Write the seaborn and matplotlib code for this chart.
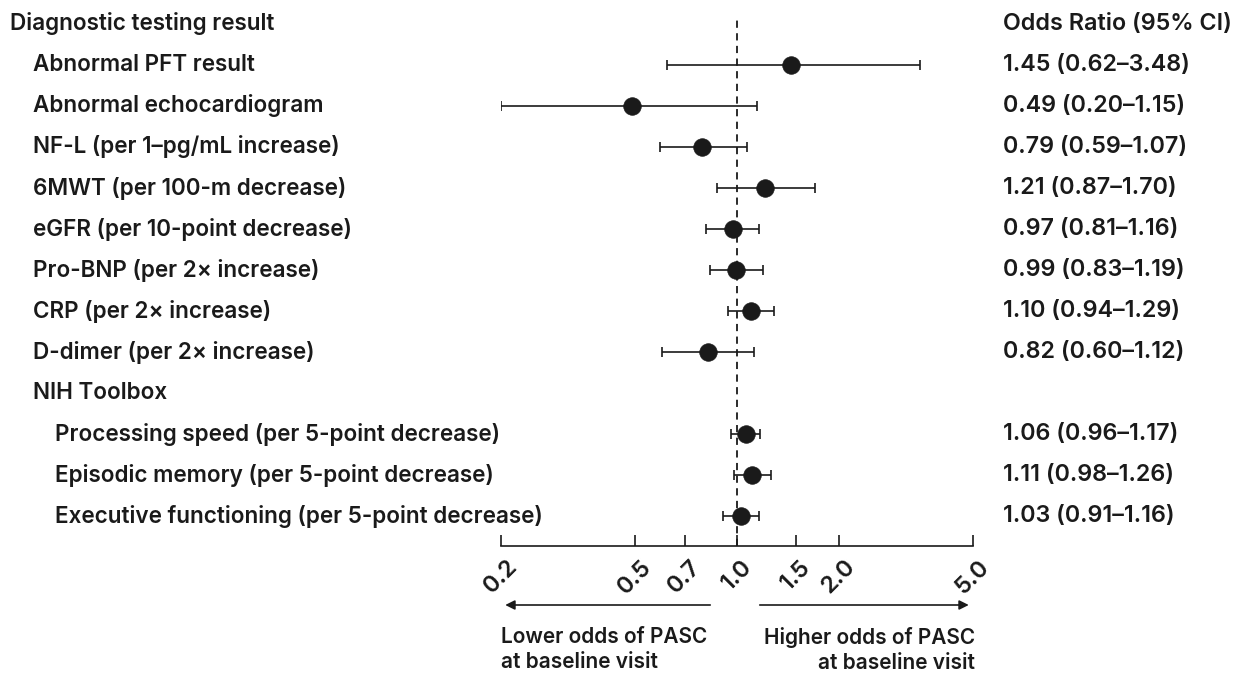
import numpy as np
import pandas as pd
import matplotlib
matplotlib.use("Agg")
import matplotlib.pyplot as plt
import matplotlib.transforms as mtransforms
import seaborn as sns

# data
labels = ["Abnormal PFT result", "Abnormal echocardiogram", "NF-L (per 1\u2013pg/mL increase)",
          "6MWT (per 100-m decrease)", "eGFR (per 10-point decrease)", "Pro-BNP (per 2\u00d7 increase)",
          "CRP (per 2\u00d7 increase)", "D-dimer (per 2\u00d7 increase)",
          "Processing speed (per 5-point decrease)", "Episodic memory (per 5-point decrease)",
          "Executive functioning (per 5-point decrease)"]
odds = [1.45, 0.49, 0.79, 1.21, 0.97, 0.99, 1.10, 0.82, 1.06, 1.11, 1.03]
lower = [0.62, 0.20, 0.59, 0.87, 0.81, 0.83, 0.94, 0.60, 0.96, 0.98, 0.91]
upper = [3.48, 1.15, 1.07, 1.70, 1.16, 1.19, 1.29, 1.12, 1.17, 1.26, 1.16]
rows = [1, 2, 3, 4, 5, 6, 7, 8, 10, 11, 12]
indent = [1, 1, 1, 1, 1, 1, 1, 1, 2, 2, 2]
ticks = [0.2, 0.5, 0.7, 1.0, 1.5, 2.0, 5.0]
tick_labels = ["0.2", "0.5", "0.7", "1.0", "1.5", "2.0", "5.0"]

df = pd.DataFrame({"label": labels, "OR": odds, "lo": lower, "hi": upper, "row": rows})

sns.set_style("white")
plt.rcParams["font.family"] = ["Inter", "Open Sans", "DejaVu Sans"]
FS = 16.2
FS_R = 16.8
W = "semibold"
ink = "#1a1a1a"

fig = plt.figure(figsize=(12.53, 6.79), dpi=100)
W_px, H_px = 1253, 679
ax = fig.add_axes([501 / W_px, 1 - 546 / H_px, (973 - 501) / W_px, (546 - 17) / H_px])

# CI lines
ax.errorbar(df["OR"], df["row"], xerr=[df["OR"] - df["lo"], df["hi"] - df["OR"]],
            fmt="none", ecolor=ink, elinewidth=1.2, capsize=3.5, capthick=1.2, zorder=2)
sns.scatterplot(data=df, x="OR", y="row", ax=ax, color=ink, s=160, edgecolor=ink,
                linewidth=0.5, zorder=3, legend=False)
ax.axvline(1.0, color=ink, linestyle=(0, (4, 3)), linewidth=1.3, zorder=1)

ax.set_xscale("log")
ax.set_xlim(0.2, 5.0)
ax.set_ylim(12.73, -0.17)
ax.set_xticks(ticks)
ax.set_xticklabels(tick_labels, rotation=45, ha="center", fontsize=17, fontweight=W, color=ink)
ax.xaxis.set_minor_locator(matplotlib.ticker.NullLocator())
ax.tick_params(axis="x", direction="in", length=8, width=1.2, color=ink, pad=7, bottom=True)
ax.set_yticks([])
ax.set_xlabel("")
ax.set_ylabel("")
for s in ["top", "left", "right"]:
    ax.spines[s].set_visible(False)
ax.spines["bottom"].set_color(ink)
ax.spines["bottom"].set_linewidth(1.2)

# row texts
tr = mtransforms.blended_transform_factory(fig.transFigure, ax.transData)
x_ind = {0: 10 / W_px, 1: 33 / W_px, 2: 55 / W_px}
ax.text(x_ind[0], 0, "Diagnostic testing result", transform=tr, fontsize=FS, fontweight=W,
        color=ink, va="center", ha="left", clip_on=False)
ax.text(1003 / W_px, 0, "Odds Ratio (95% CI)", transform=tr, fontsize=FS_R, fontweight=W,
        color=ink, va="center", ha="left", clip_on=False)
ax.text(x_ind[1], 9, "NIH Toolbox", transform=tr, fontsize=FS, fontweight=W,
        color=ink, va="center", ha="left", clip_on=False)
for lab, o, lo, hi, r, ind in zip(labels, odds, lower, upper, rows, indent):
    ax.text(x_ind[ind], r, lab, transform=tr, fontsize=FS, fontweight=W, color=ink,
            va="center", ha="left", clip_on=False)
    ax.text(1003 / W_px, r, f"{o:.2f} ({lo:.2f}\u2013{hi:.2f})", transform=tr, fontsize=FS_R,
            fontweight=W, color=ink, va="center", ha="left", clip_on=False)

# direction arrows
ya = 1 - 605 / H_px
ax.annotate("", xy=(0.202, ya), xytext=(0.849, ya), xycoords=("data", "figure fraction"),
            textcoords=("data", "figure fraction"),
            arrowprops=dict(arrowstyle="-|>", color=ink, lw=1.2, mutation_scale=14))
ax.annotate("", xy=(4.95, ya), xytext=(1.146, ya), xycoords=("data", "figure fraction"),
            textcoords=("data", "figure fraction"),
            arrowprops=dict(arrowstyle="-|>", color=ink, lw=1.2, mutation_scale=14))
fig.text(501 / W_px, 1 - 627 / H_px, "Lower odds of PASC\nat baseline visit", fontsize=15,
         fontweight=W, color=ink, ha="left", va="top", linespacing=1.3)
fig.text(975 / W_px, 1 - 627 / H_px, "Higher odds of PASC\nat baseline visit", fontsize=15,
         fontweight=W, color=ink, ha="right", va="top", linespacing=1.3, multialignment="right")

fig.savefig("out.png", dpi=100, facecolor="white")
